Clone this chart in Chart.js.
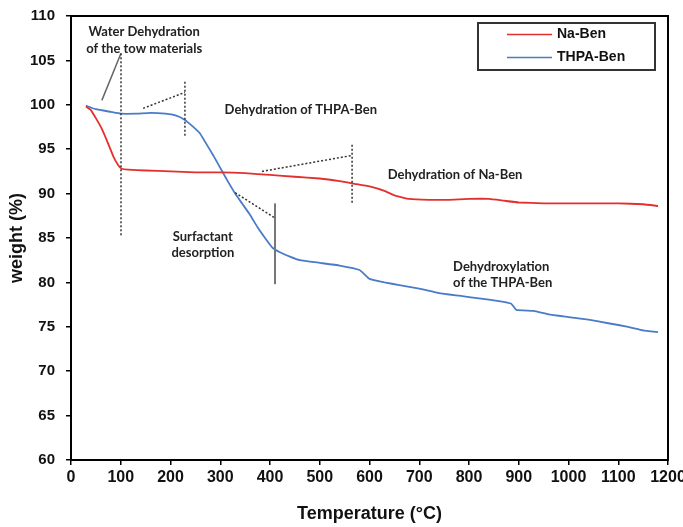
<!DOCTYPE html>
<html>
<head>
<meta charset="utf-8">
<script src="https://cdn.jsdelivr.net/npm/chart.js@4/dist/chart.umd.min.js"></script>
<style>
    html, body { margin: 0; padding: 0; background: #fff; }
    #grafica { display: block; }
</style>
</head>
<body>
<canvas id="grafica" width="683" height="527"></canvas>
<script>
// Curvas TGA: temperatura (°C) y peso (%)
let temperaturaNaBen = [30, 40, 52, 62, 72, 85, 95, 102, 115, 150, 200, 250, 300, 350, 400, 450, 500, 540, 570, 600, 630, 650, 680, 720, 760, 800, 840, 870, 900, 950, 1000, 1050, 1100, 1150, 1180];
let pesoNaBen = [99.8, 99.4, 98.3, 97.3, 96.0, 94.2, 93.2, 92.8, 92.7, 92.6, 92.5, 92.4, 92.4, 92.3, 92.1, 91.9, 91.7, 91.4, 91.1, 90.8, 90.3, 89.8, 89.4, 89.3, 89.3, 89.4, 89.4, 89.2, 89.0, 88.9, 88.9, 88.9, 88.9, 88.8, 88.6];

let temperaturaTHPA = [30, 50, 80, 100, 130, 160, 190, 210, 229, 244, 259, 272, 286, 300, 315, 330, 345, 360, 375, 390, 405, 420, 440, 460, 500, 540, 580, 600, 630, 660, 700, 740, 780, 820, 860, 885, 895, 930, 960, 1000, 1040, 1080, 1120, 1150, 1180];
let pesoTHPA = [99.9, 99.5, 99.2, 99.0, 99.0, 99.1, 99.0, 98.8, 98.3, 97.6, 96.8, 95.6, 94.3, 92.9, 91.4, 90.0, 88.8, 87.6, 86.2, 85.0, 83.9, 83.4, 82.9, 82.5, 82.2, 81.9, 81.4, 80.4, 80.0, 79.7, 79.3, 78.8, 78.5, 78.2, 77.9, 77.6, 76.9, 76.8, 76.4, 76.1, 75.8, 75.4, 75.0, 74.6, 74.4];

let etiquetas = ["Na-Ben", "THPA-Ben"];
let colores = ["#e3302c", "#4a7bc8"];

// Textos de las etapas (x, y en unidades de datos)
let textos = [
    { t: "Water Dehydration", x: 147, y: 108.2, a: "center" },
    { t: "of the tow materials", x: 147, y: 106.3, a: "center" },
    { t: "Dehydration of THPA-Ben", x: 462, y: 99.4, a: "center" },
    { t: "Dehydration of Na-Ben", x: 772, y: 92.1, a: "center" },
    { t: "Surfactant", x: 265, y: 85.1, a: "center" },
    { t: "desorption", x: 265, y: 83.3, a: "center" },
    { t: "Dehydroxylation", x: 768, y: 81.7, a: "left" },
    { t: "of the THPA-Ben", x: 768, y: 79.9, a: "left" }
];

// Líneas guía: [x1, y1, x2, y2, punteada, color, grosor]
let guias = [
    [62, 100.5, 100.5, 105.8, false, "#666", 1.5],
    [100.5, 105.8, 100.5, 85.3, true, "#333", 1.5],
    [145, 99.6, 229, 101.4, true, "#333", 1.5],
    [229, 102.6, 229, 96.5, true, "#333", 1.5],
    [384, 92.5, 565, 94.3, true, "#333", 1.5],
    [565, 95.5, 565, 88.9, true, "#333", 1.5],
    [330, 90.1, 410, 87.25, true, "#333", 1.5],
    [410, 88.9, 410, 79.8, false, "#777", 2]
];

function puntos(xs, ys) {
    return xs.map((x, i) => ({ x: x, y: ys[i] }));
}

const anotaciones = {
    id: "anotaciones",
    afterDatasetsDraw(chart) {
        let ctx = chart.ctx;
        let sx = chart.scales.x, sy = chart.scales.y;
        let area = chart.chartArea;

        ctx.save();
        // marco
        ctx.strokeStyle = "#000";
        ctx.lineWidth = 2;
        ctx.strokeRect(area.left, area.top, area.right - area.left, area.bottom - area.top);

        guias.forEach(g => {
            ctx.beginPath();
            ctx.setLineDash(g[4] ? [2, 2] : []);
            ctx.strokeStyle = g[5];
            ctx.lineWidth = g[6];
            ctx.moveTo(sx.getPixelForValue(g[0]), sy.getPixelForValue(g[1]));
            ctx.lineTo(sx.getPixelForValue(g[2]), sy.getPixelForValue(g[3]));
            ctx.stroke();
        });
        ctx.setLineDash([]);

        ctx.fillStyle = "#222";
        ctx.font = "bold 13px Lato";
        ctx.textBaseline = "middle";
        textos.forEach(t => {
            ctx.textAlign = t.a;
            ctx.fillText(t.t, sx.getPixelForValue(t.x), sy.getPixelForValue(t.y));
        });

        // leyenda
        ctx.strokeStyle = "#333";
        ctx.lineWidth = 2;
        ctx.strokeRect(478, 23, 177, 47);
        ctx.font = "bold 14px 'Liberation Sans'";
        ctx.textAlign = "left";
        chart.data.datasets.forEach((ds, i) => {
            let y = 34.5 + i * 23;
            ctx.beginPath();
            ctx.strokeStyle = ds.borderColor;
            ctx.lineWidth = 1.5;
            ctx.moveTo(507, y);
            ctx.lineTo(552, y);
            ctx.stroke();
            ctx.fillStyle = "#111";
            ctx.fillText(ds.label, 557, y);
        });
        ctx.restore();
    }
};

let ctx = document.getElementById("grafica").getContext("2d");
let grafica = new Chart(ctx, {
    type: "line",
    data: {
        datasets: [
            {
                label: etiquetas[0],
                data: puntos(temperaturaNaBen, pesoNaBen),
                borderColor: colores[0],
                borderWidth: 1.8,
                pointRadius: 0,
                tension: 0.1,
                fill: false
            },
            {
                label: etiquetas[1],
                data: puntos(temperaturaTHPA, pesoTHPA),
                borderColor: colores[1],
                borderWidth: 1.8,
                pointRadius: 0,
                tension: 0.1,
                fill: false
            }
        ]
    },
    options: {
        responsive: false,
        animation: false,
        layout: { padding: { top: 16, right: 15, left: 0, bottom: 0 } },
        plugins: {
            legend: { display: false },
            tooltip: { enabled: false }
        },
        scales: {
            x: {
                type: "linear",
                min: 0,
                max: 1200,
                afterFit: s => { s.height = 67; s.paddingLeft = 0; s.paddingRight = 0; },
                border: { color: "#000", width: 2 },
                grid: { drawOnChartArea: false, tickLength: 5, color: "#000", lineWidth: 1.5 },
                ticks: {
                    stepSize: 100,
                    padding: 3,
                    color: "#111",
                    callback: v => String(v),
                    font: { family: "'Liberation Sans'", size: 16, weight: "bold" }
                },
                title: {
                    display: true,
                    text: "Temperature (°C)",
                    color: "#111",
                    padding: { bottom: 2 },
                    font: { family: "'Liberation Sans'", size: 18, weight: "bold" }
                }
            },
            y: {
                min: 60,
                max: 110,
                afterFit: s => { s.width = 71; s.paddingTop = 0; s.paddingBottom = 0; },
                border: { color: "#000", width: 2 },
                grid: { drawOnChartArea: false, tickLength: 5, color: "#000", lineWidth: 1.5 },
                ticks: {
                    stepSize: 5,
                    padding: 11,
                    color: "#111",
                    font: { family: "'Liberation Sans'", size: 15, weight: "bold" }
                },
                title: {
                    display: true,
                    text: "weight (%)",
                    color: "#111",
                    padding: { top: 6 },
                    font: { family: "'Liberation Sans'", size: 18, weight: "bold" }
                }
            }
        }
    },
    plugins: [anotaciones]
});
</script>
</body>
</html>
